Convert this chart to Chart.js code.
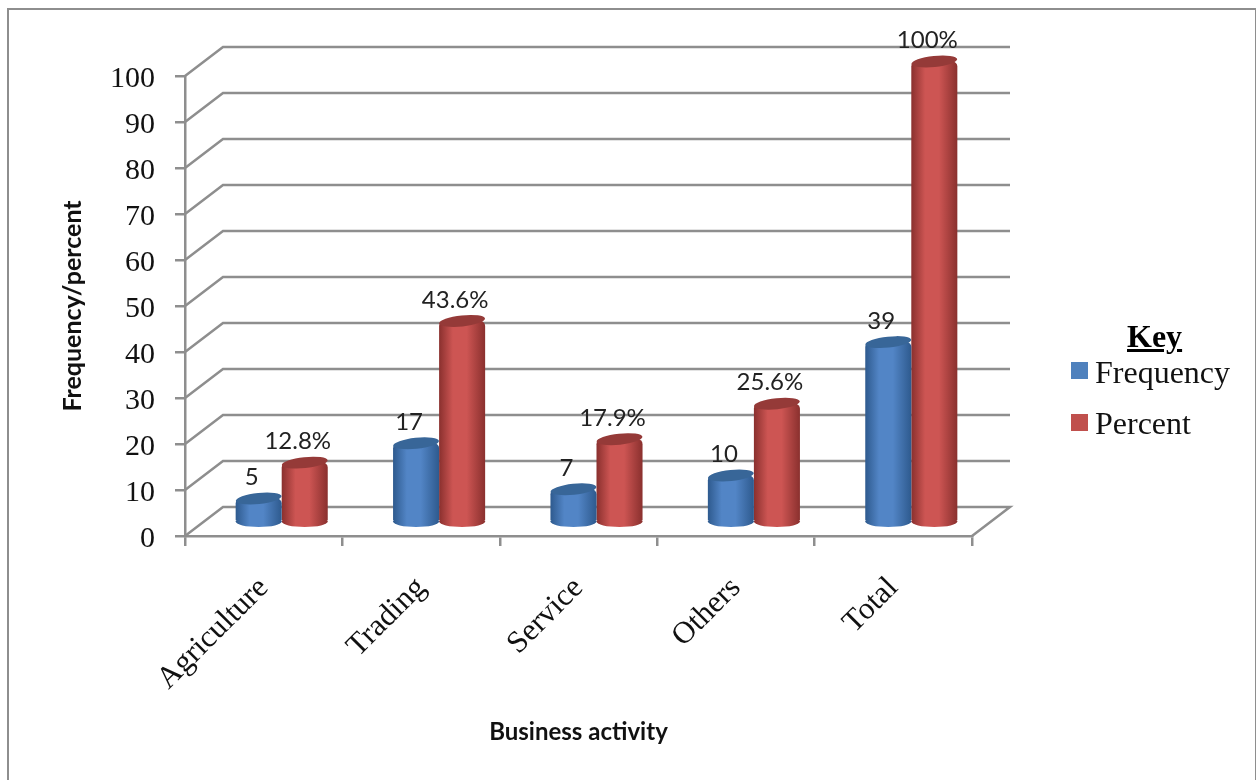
<!DOCTYPE html>
<html lang="en">
<head>
<meta charset="UTF-8" />
<title>Business activity</title>
<style>
  body { margin: 0; background: #fff; overflow: hidden; }
  #wrap { position: relative; width: 1256px; height: 780px; }
  #frame { position: absolute; left: 7px; top: 8px; width: 1246px; height: 790px; border: 2px solid #8e8e8e; }
  canvas { position: absolute; left: 0; top: 0; }
  .key { position: absolute; font-family: 'Liberation Serif', serif; font-size: 32px; color: #111; line-height: 36px; white-space: nowrap; }
  .key.title { left: 1127px; top: 318px; font-weight: 700; text-decoration: underline; color: #000; }
  .swatch { position: absolute; width: 17px; height: 17px; }
</style>
</head>
<body>
<div id="wrap">
  <div id="frame"></div>
  <canvas id="chart" width="1256" height="780"></canvas>
  <div class="key title">Key</div>
  <div class="swatch" style="left:1071px;top:362px;background:#4f81bd"></div>
  <div class="key" style="left:1095px;top:354px">Frequency</div>
  <div class="swatch" style="left:1071px;top:414px;background:#c0504d"></div>
  <div class="key" style="left:1095px;top:405px">Percent</div>
</div>

<script src="https://cdn.jsdelivr.net/npm/chart.js"></script>
<script>
  const categories = ['Agriculture', 'Trading', 'Service', 'Others', 'Total'];
  const frequencyValues = [5, 17, 7, 10, 39];
  const percentValues = [12.8, 43.6, 17.9, 25.6, 100];
  const frequencyLabels = ['5', '17', '7', '10', '39'];
  const percentLabels = ['12.8%', '43.6%', '17.9%', '25.6%', '100%'];

  // fake 3D: back wall offset and where the cylinders stand on the floor
  const wallDx = 38, wallDy = -29;
  const barDx = 18, barDy = -14.5;
  const groupPct = 0.585;
  const axisGrey = '#8e8e8e';
  const topCorners = { topLeft: 5, topRight: 5, bottomLeft: 0, bottomRight: 0 };

  const shades = [
    { edge: '#2e5a8e', mid: '#5285c6', cap: '#386698' },
    { edge: '#8a302e', mid: '#cd5553', cap: '#953a38' }
  ];

  // cylinder side shading, worked out from the category scale
  function sideFill(c) {
    const s = shades[c.datasetIndex];
    if (c.type !== 'data') return s.mid;
    const x = c.chart.scales.x;
    const w = x.width / categories.length * groupPct / 2;
    const left = x.getPixelForValue(c.dataIndex) - w + c.datasetIndex * w;
    if (!isFinite(left) || !isFinite(w)) return s.mid; // scales not laid out yet
    const g = c.chart.ctx.createLinearGradient(left, 0, left + w, 0);
    g.addColorStop(0, s.edge);
    g.addColorStop(0.3, s.mid);
    g.addColorStop(0.6, s.mid);
    g.addColorStop(1, s.edge);
    return g;
  }

  function ellipse(ctx, x, y, w, tilt) {
    ctx.beginPath();
    ctx.ellipse(x, y, w / 2, 5.5, tilt * Math.PI / 180, 0, Math.PI * 2);
    ctx.fill();
  }

  const wallPlugin = {
    id: 'wall',
    beforeDraw(chart) {
      // serif digits sit a little low against their ticks in the original
      chart.scales.y.getLabelItems().forEach(item => { item.options.translation[1] += 3.5; });
    },
    beforeDatasetsDraw(chart) {
      const { ctx, scales: { x, y } } = chart;
      ctx.save();
      ctx.strokeStyle = axisGrey;
      ctx.lineWidth = 2.5;
      y.ticks.forEach((t, i) => {
        const py = y.getPixelForTick(i);
        ctx.beginPath();
        ctx.moveTo(x.left, py);
        ctx.lineTo(x.left + wallDx, py + wallDy);
        ctx.lineTo(x.right + wallDx, py + wallDy);
        if (t.value === 0) {
          ctx.lineTo(x.right, py);
        }
        ctx.stroke();
      });
      ctx.restore();
      // the bars stand half way into the floor
      ctx.save();
      ctx.translate(barDx, barDy);
    },
    beforeDatasetDraw(chart, args) {
      const ctx = chart.ctx;
      const base = chart.scales.y.getPixelForValue(0);
      args.meta.data.forEach((el, i) => {
        ctx.fillStyle = sideFill({ type: 'data', chart, datasetIndex: args.index, dataIndex: i });
        ellipse(ctx, el.x, base, el.width, 0);
      });
    },
    afterDatasetDraw(chart, args) {
      const ctx = chart.ctx;
      ctx.fillStyle = shades[args.index].cap;
      args.meta.data.forEach(el => ellipse(ctx, el.x, el.y, el.width, -6));
    },
    afterDatasetsDraw(chart) {
      const ctx = chart.ctx;
      ctx.restore();
      ctx.save();
      ctx.font = "24px Lato, sans-serif";
      ctx.fillStyle = '#222';
      ctx.textAlign = 'center';
      ctx.textBaseline = 'middle';
      [frequencyLabels, percentLabels].forEach((labels, d) => {
        chart.getDatasetMeta(d).data.forEach((el, i) => {
          ctx.fillText(labels[i], el.x + barDx - 7, el.y + barDy - 21);
        });
      });
      ctx.restore();
    }
  };

  new Chart(document.getElementById('chart'), {
    type: 'bar',
    data: {
      labels: categories,
      datasets: [
        { label: 'Frequency', data: frequencyValues, clip: false, backgroundColor: sideFill, borderRadius: topCorners, borderSkipped: false },
        { label: 'Percent', data: percentValues, clip: false, backgroundColor: sideFill, borderRadius: topCorners, borderSkipped: false }
      ]
    },
    plugins: [wallPlugin],
    options: {
      responsive: false,
      animation: false,
      layout: { padding: { left: 0, top: 76, right: 284, bottom: 0 } },
      categoryPercentage: groupPct,
      barPercentage: 1,
      plugins: { legend: { display: false }, tooltip: { enabled: false } },
      scales: {
        x: {
          afterFit(s) { s.height = 244; },
          border: { color: axisGrey, width: 2.5 },
          grid: { drawOnChartArea: false, color: axisGrey, lineWidth: 2.5, tickLength: 10 },
          ticks: {
            autoSkip: false, minRotation: 45, maxRotation: 45, padding: 24, color: '#111',
            font: { family: "'Liberation Serif', serif", size: 31 }
          },
          title: {
            display: true, text: 'Business activity', color: '#111',
            font: { family: 'Lato, sans-serif', size: 24, weight: 'bold' },
            padding: { top: 0, bottom: 33 }
          }
        },
        y: {
          min: 0, max: 100,
          afterFit(s) { s.width = 185; },
          border: { color: axisGrey, width: 2.5 },
          grid: { drawOnChartArea: false, color: axisGrey, lineWidth: 2.5, tickLength: 10 },
          ticks: {
            stepSize: 10, padding: 20, color: '#111',
            font: { family: "'Liberation Serif', serif", size: 30 }
          },
          title: {
            display: true, text: 'Frequency/percent', color: '#111',
            font: { family: 'Lato, sans-serif', size: 25, weight: 'bold' },
            padding: { top: 58, bottom: 0 }
          }
        }
      }
    }
  });
</script>
</body>
</html>
